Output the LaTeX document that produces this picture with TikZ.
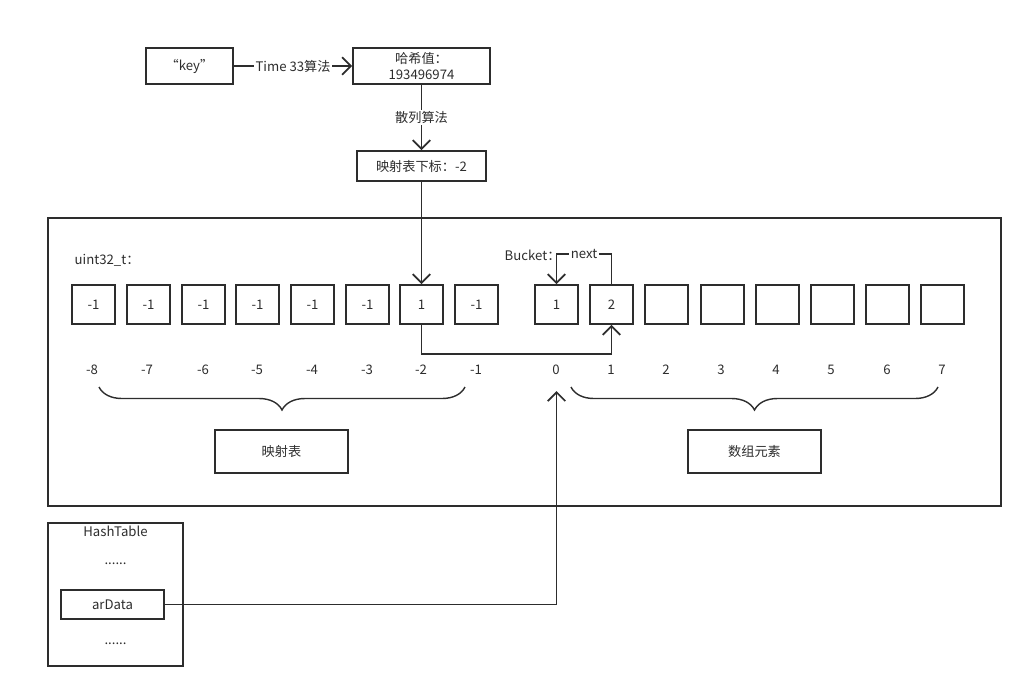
\documentclass[tikz,border=0pt]{standalone}
\usepackage{fontspec}
\setmainfont{Noto Sans CJK SC}
\usetikzlibrary{arrows.meta,positioning,decorations.pathreplacing}
\definecolor{ink}{RGB}{45,45,45}

\tikzset{
  box/.style={draw, rectangle, inner sep=0pt, align=center},
  cell/.style={draw, rectangle, inner sep=0pt, minimum width=0.86cm, minimum height=0.78cm},
  idxlabel/.style={inner sep=1pt},
  curly/.style={decorate, decoration={brace, mirror, amplitude=0.46cm}, line width=0.8pt},
}

\begin{document}
\begin{tikzpicture}[x=0.02cm, y=-0.02cm, color=ink, line width=1pt,
    >={Straight Barb[length=5pt,width=10pt]}, font=\fontsize{7.5}{9.5}\selectfont]
    \useasboundingbox (0,0) rectangle (1033,697);

    % key -> hash -> index
    \node[box, minimum width=1.74cm, minimum height=0.72cm] (key) at (189.5,66) {“key”};
    \node[box, minimum width=2.74cm, minimum height=0.72cm] (hash) at (421.5,66) {哈希值：\\193496974};
    \node[box, minimum width=2.58cm, minimum height=0.6cm] (idx) at (421.5,166) {映射表下标：-2};

    \path[->]
    (key) edge node[fill=white, inner sep=1pt] {Time 33算法} (hash)
    (hash) edge node[fill=white, inner sep=1pt] {散列算法} (idx);

    % outer frame
    \node[draw, minimum width=19.06cm, minimum height=5.76cm] (frame) at (524.5,362) {};
    \node[anchor=west] (utype) at (68,260) {uint32\_t：};
    \node[anchor=west] (bucket) at (498,255) {Bucket：};

    % mapping table and bucket cells
    \foreach \v/\x [count=\n] in {-1/93.5,-1/148.5,-1/203.5,-1/257.5,-1/312.5,-1/367.5,1/421.5,-1/476.5}
      \node[cell] (m\n) at (\x,304.5) {\v};
    \foreach \v/\x [count=\n from 0] in {1/556.5,2/611.5,/666.5,/722.5,/777.5,/832.5,/887.5,/942.5}
      \node[cell] (b\n) at (\x,304.5) {\v};

    % indices
    \foreach \i/\x in {-8/92,-7/147,-6/203,-5/257,-4/312,-3/367,-2/421,-1/476,0/556,1/611,2/666,3/721,4/776,5/831,6/887,7/942}
      \node[idxlabel] (i\i) at (\x,370) {\i};

    % braces and captions
    \draw[curly] (99,387) -- (465,387);
    \draw[curly] (571,387) -- (938,387);
    \node[box, minimum width=2.66cm, minimum height=0.86cm] (maptab) at (281.5,451.5) {映射表};
    \node[box, minimum width=2.66cm, minimum height=0.86cm] (arr) at (754.5,451.5) {数组元素};

    % links
    \draw[->] (idx) -- (m7);
    \draw[->] (m7.south) -- ++(0,29) -| (b1.south);
    \draw[->] (b1.north) -- ++(0,-30) -| node[pos=0.25, fill=white, inner sep=1pt] {next} (b0.north);

    % HashTable struct
    \node[draw, minimum width=2.7cm, minimum height=2.86cm] (ht) at (115.5,594.5) {};
    \node (htname) at (115.5,531) {HashTable};
    \node (dotsa) at (115.5,564) {......};
    \node[box, minimum width=2.06cm, minimum height=0.58cm] (ardata) at (112.5,604.5) {arData};
    \node (dotsb) at (115.5,644) {......};

    \coordinate (zero) at (556.5,391);
    \draw[->] (ardata.east) -| (zero);
\end{tikzpicture}
\end{document}
